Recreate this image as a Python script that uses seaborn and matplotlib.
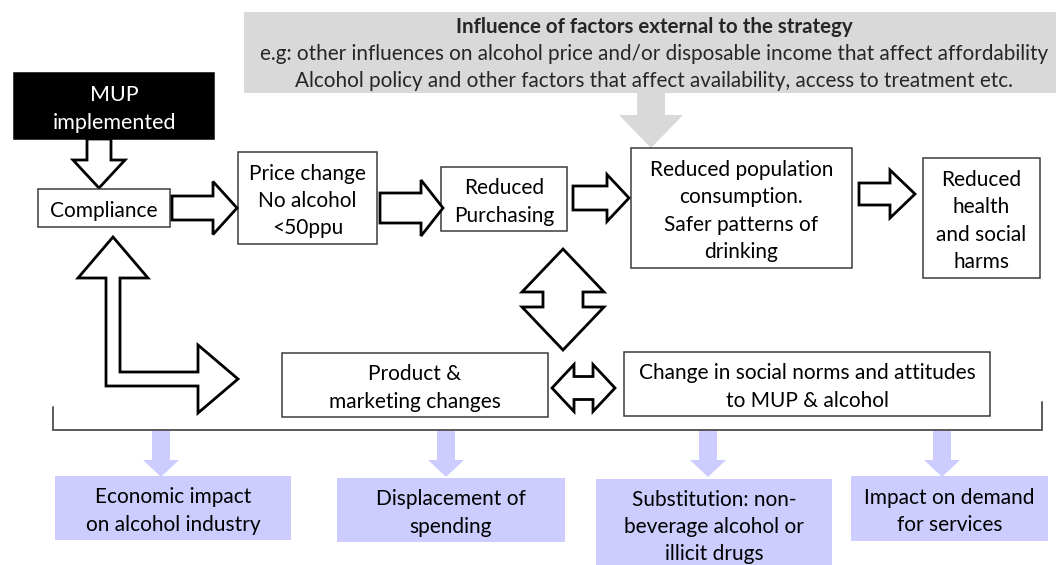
import numpy as np
import matplotlib
matplotlib.use("Agg")
import matplotlib.pyplot as plt
from matplotlib.patches import Rectangle, Polygon
import seaborn as sns

# text content of the diagram
external_title = "Influence of factors external to the strategy"
external_lines = [
    "e.g: other influences on alcohol price and/or disposable income that affect affordability",
    "Alcohol policy and other factors that affect availability, access to treatment etc.",
]
start_label = "MUP\nimplemented"
chain_labels = [
    "Compliance",
    "Price change\nNo alcohol\n<50ppu",
    "Reduced\nPurchasing",
    "Reduced population\nconsumption.\nSafer patterns of\ndrinking",
    "Reduced\nhealth\nand social\nharms",
]
side_labels = ["Product &\nmarketing changes", "Change in social norms and attitudes\nto MUP & alcohol"]
outcome_labels = [
    "Economic impact\non alcohol industry",
    "Displacement of\nspending",
    "Substitution: non-\nbeverage alcohol or\nillicit drugs",
    "Impact on demand\nfor services",
]

# layout (pixel space, y down)
chain_boxes = [(38, 189, 132, 38), (238, 152, 139, 92), (441, 167, 126, 64),
               (631, 148, 221, 120), (923, 158, 117, 120)]
side_boxes = [(282, 353, 266, 64), (624, 352, 366, 64)]
outcome_boxes = [(55, 476, 236, 64), (337, 478, 228, 64), (596, 479, 236, 90), (851, 476, 197, 65)]
outcome_arrow_x = [161, 446, 708, 942]

GREY = "#d9d9d9"
LILAC = "#ccccff"
EDGE = "#3c3c3c"
FS = 15

sns.set_theme(style="white")
plt.rcParams["font.family"] = ["Lato", "DejaVu Sans"]

fig = plt.figure(figsize=(10.56, 5.65), dpi=100)
ax = fig.add_axes([0, 0, 1, 1])
ax.set_xlim(0, 1056)
ax.set_ylim(565, 0)
ax.axis("off")


def box(x, y, w, h, text, fc="white", ec=EDGE, color="black", size=FS, lw=1.1):
    ax.add_patch(Rectangle((x, y), w, h, facecolor=fc, edgecolor=ec, lw=lw))
    ax.text(x + w / 2, y + h / 2 + 3, text, ha="center", va="center", fontsize=size,
            color=color, linespacing=1.45)


def block_arrow(p0, p1, sw, hw, hl, both=False, fc="white", ec="black", lw=2.0):
    # block arrow from p0 to p1 (tip), shaft width sw, head width hw, head length hl
    p0, p1 = np.array(p0, float), np.array(p1, float)
    d = p1 - p0
    L = np.hypot(*d)
    u = d / L
    n = np.array([-u[1], u[0]])
    pts = []
    if both:
        pts += [(0, 0), (hl, hw / 2), (hl, sw / 2)]
    else:
        pts += [(0, sw / 2)]
    pts += [(L - hl, sw / 2), (L - hl, hw / 2), (L, 0), (L - hl, -hw / 2), (L - hl, -sw / 2)]
    if both:
        pts += [(hl, -sw / 2), (hl, -hw / 2)]
    else:
        pts += [(0, -sw / 2)]
    xy = [p0 + a * u + b * n for a, b in pts]
    ax.add_patch(Polygon(xy, closed=True, facecolor=fc, edgecolor=ec if ec else fc,
                         lw=lw if ec else 0, joinstyle="miter"))


# external factors panel and its arrow
ax.add_patch(Rectangle((244, 12), 820, 81, facecolor=GREY, edgecolor="none"))
ax.text(654, 27, external_title, ha="center", va="center", fontsize=14.8, fontweight="bold")
for i, line in enumerate(external_lines):
    ax.text(654, 54 + 27 * i, line, ha="center", va="center", fontsize=14.9)
block_arrow((651, 92), (651, 148), 28, 64, 33, fc=GREY, ec=None)

# MUP implemented
box(14, 73, 200, 66, start_label, fc="black", ec="black", color="white", size=15.5)
block_arrow((99, 139), (99, 188), 24, 52, 28)

# main causal chain
for (x, y, w, h), lab in zip(chain_boxes, chain_labels):
    box(x, y, w, h, lab)
block_arrow((172, 208), (237, 208), 24, 53, 24)
block_arrow((380, 208), (443, 208), 30, 56, 22)
block_arrow((573, 198), (629, 198), 24, 47, 22)
block_arrow((859, 194), (915, 194), 22, 48, 25)

# L-shaped arrow from compliance to product changes
lx, ly, sw = 113, 379, 14
L_pts = [(lx, 237), (lx + 35, 278), (lx + sw / 2, 278), (lx + sw / 2, ly - sw / 2),
         (198, ly - sw / 2), (198, ly - 34), (238, ly), (198, ly + 34),
         (198, ly + sw / 2), (lx - sw / 2, ly + sw / 2), (lx - sw / 2, 278), (lx - 35, 278)]
ax.add_patch(Polygon(L_pts, closed=True, facecolor="white", edgecolor="black", lw=2.0,
                     joinstyle="miter"))

# side boxes and double arrows
for (x, y, w, h), lab in zip(side_boxes, side_labels):
    box(x, y, w, h, lab)
block_arrow((563, 249), (563, 350), 40, 82, 43, both=True)
block_arrow((552, 388), (615, 388), 23, 47, 22, both=True)

# bracket
ax.plot([53, 53, 1042, 1042], [407, 430, 430, 402], color="#595959", lw=1.4,
        solid_joinstyle="miter")

# outcomes
for xc in outcome_arrow_x:
    block_arrow((xc, 430), (xc, 477), 18, 36, 17, fc=LILAC, ec=None)
for (x, y, w, h), lab in zip(outcome_boxes, outcome_labels):
    box(x, y, w, h, lab, fc=LILAC, ec="none")

fig.savefig("out.png", dpi=100, facecolor="white")
